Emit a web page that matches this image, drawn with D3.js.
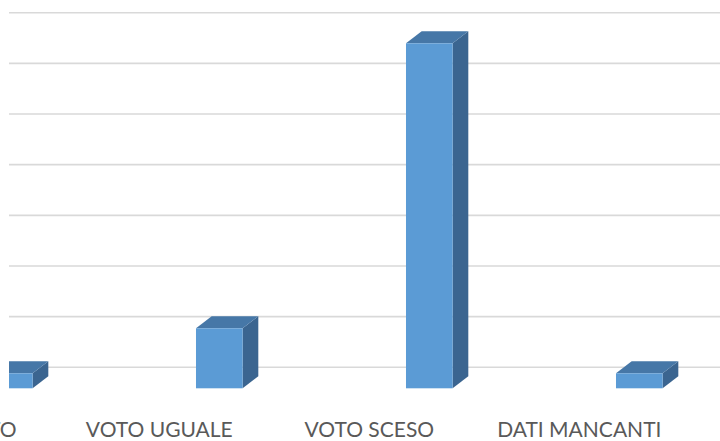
<!DOCTYPE html>
<html>
<head>
<meta charset="utf-8">
<script src="https://cdn.jsdelivr.net/npm/d3@7"></script>
<style>
	html, body { margin: 0; padding: 0; background: #fff; }
	svg { display: block; }
</style>
</head>
<body>
<div id="chart"></div>
<script>
const categories = ['VOTO SALITO', 'VOTO UGUALE', 'VOTO SCESO', 'DATI MANCANTI'];
const values = [1, 4, 23, 1];
const gridTicks = [0, 5, 10, 15, 20, 25, 30, 35];

const w = 720;
const h = 441;
const depthX = 15.7;
const depthY = 12;

const svg = d3.select('#chart').append('svg')
	.attr('width', w)
	.attr('height', h);

svg.append('defs').append('clipPath')
	.attr('id', 'plotClip')
	.append('rect')
	.attr('x', 9)
	.attr('y', 0)
	.attr('width', w - 9)
	.attr('height', 400);

const x = d3.scaleBand()
	.domain(categories)
	.range([-95.7, 744.3]);

const barW = x.bandwidth() * 0.222;

// front plane scale for the bars
const y = d3.scaleLinear()
	.domain([0, 23])
	.range([388.3, 43.3]);

// back wall scale for the gridlines
const yWall = d3.scaleLinear()
	.domain([0, 35])
	.range([367.3, 12.7]);

const plot = svg.append('g').attr('clip-path', 'url(#plotClip)');

plot.append('g')
	.selectAll('line')
	.data(gridTicks)
	.join('line')
	.attr('x1', 9)
	.attr('x2', w)
	.attr('y1', d => yWall(d))
	.attr('y2', d => yWall(d))
	.attr('stroke', '#d9d9d9')
	.attr('stroke-width', 1.6);

const bars = plot.append('g')
	.selectAll('g')
	.data(categories.map((c, i) => ({ c, v: values[i] })))
	.join('g')
	.attr('transform', d => `translate(${x(d.c) + (x.bandwidth() - barW) / 2},0)`);

// side face
bars.append('path')
	.attr('d', d => {
		const t = y(d.v), b = y(0);
		return `M${barW},${t}L${barW + depthX},${t - depthY}L${barW + depthX},${b - depthY}L${barW},${b}Z`;
	})
	.attr('fill', '#3b6590');

// top face
bars.append('path')
	.attr('d', d => {
		const t = y(d.v);
		return `M0,${t}L${depthX},${t - depthY}L${barW + depthX},${t - depthY}L${barW},${t}Z`;
	})
	.attr('fill', '#4677a7');

// front face
bars.append('rect')
	.attr('x', 0)
	.attr('y', d => y(d.v))
	.attr('width', barW)
	.attr('height', d => y(0) - y(d.v))
	.attr('fill', '#5b9bd5');

svg.append('g')
	.selectAll('text')
	.data(categories)
	.join('text')
	.attr('x', d => x(d) + x.bandwidth() / 2 - 60)
	.attr('y', 437.3)
	.attr('text-anchor', 'middle')
	.attr('font-family', 'Lato, "Open Sans", sans-serif')
	.attr('font-size', 21)
	.attr('fill', '#595959')
	.text(d => d);
</script>
</body>
</html>
